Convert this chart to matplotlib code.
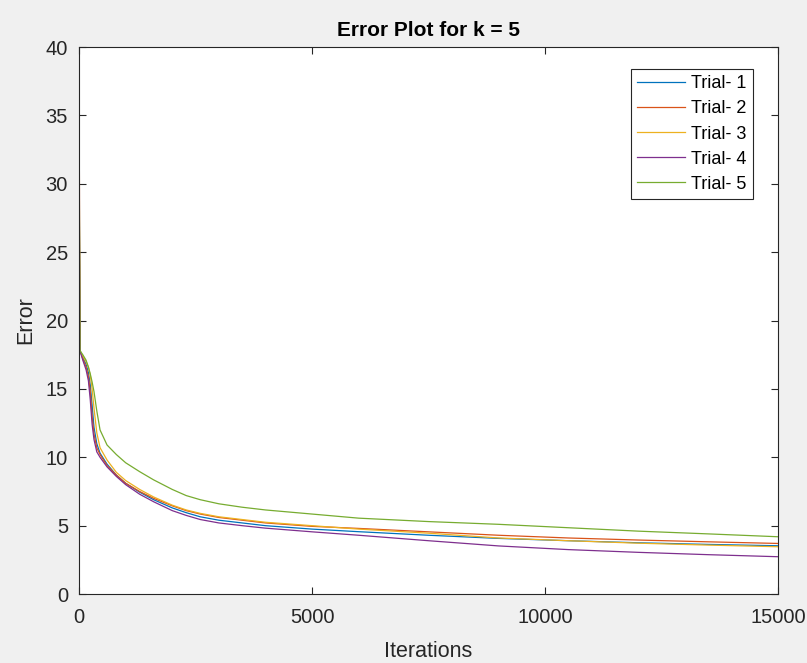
import matplotlib
matplotlib.use("Agg")
import matplotlib.pyplot as plt

plt.rcParams['font.family'] = ['Liberation Sans', 'DejaVu Sans']

iterations = [0, 20, 80, 150, 200, 240, 280, 320, 380, 450, 600, 800, 1000,
              1300, 1600, 2000, 2300, 2600, 3000, 3500, 4000, 5000, 6000,
              7500, 9000, 10500, 12000, 13500, 15000]

trial1 = [32.0, 17.8, 17.3, 16.8, 16.2, 15.3, 13.8, 12.2, 11.0, 10.3, 9.5, 8.7, 8.1,
          7.45, 6.9, 6.3, 5.95, 5.65, 5.4, 5.2, 5.0, 4.75, 4.56,
          4.3, 4.07, 3.9, 3.75, 3.63, 3.53]
trial2 = [37.0, 17.8, 17.2, 16.6, 15.9, 14.8, 13.0, 11.7, 10.7, 10.2, 9.4, 8.7, 8.1,
          7.5, 7.0, 6.45, 6.1, 5.85, 5.6, 5.4, 5.2, 4.95, 4.8,
          4.55, 4.3, 4.1, 3.95, 3.82, 3.70]
trial3 = [31.0, 17.8, 17.4, 17.0, 16.6, 16.0, 15.0, 13.6, 11.8, 10.7, 9.8, 8.9, 8.3,
          7.65, 7.1, 6.5, 6.15, 5.9, 5.65, 5.45, 5.25, 5.0, 4.75,
          4.45, 4.1, 3.9, 3.72, 3.58, 3.46]
trial4 = [30.0, 17.8, 17.1, 16.4, 15.6, 14.2, 12.4, 11.3, 10.4, 10.0, 9.3, 8.6, 8.0,
          7.3, 6.75, 6.1, 5.75, 5.45, 5.2, 5.0, 4.82, 4.55, 4.3,
          3.9, 3.52, 3.25, 3.05, 2.88, 2.73]
trial5 = [33.7, 17.8, 17.5, 17.1, 16.6, 16.1, 15.5, 14.8, 13.4, 12.0, 10.9, 10.2, 9.6,
          8.95, 8.35, 7.65, 7.2, 6.9, 6.6, 6.35, 6.15, 5.85, 5.55,
          5.3, 5.1, 4.85, 4.6, 4.4, 4.19]

labels = ["Trial- 1", "Trial- 2", "Trial- 3", "Trial- 4", "Trial- 5"]
colors = ["#0072BD", "#D95319", "#EDB120", "#7E2F8E", "#77AC30"]
series = [trial1, trial2, trial3, trial4, trial5]

fig = plt.figure(figsize=(8.07, 6.63), dpi=100, facecolor="#f0f0f0")
ax = fig.add_axes([0.098, 0.104, 0.866, 0.825])
ax.set_facecolor("white")

for s, lab, c in zip(series, labels, colors):
    ax.plot(iterations, s, color=c, lw=0.9, label=lab)

ax.set_xlim(0, 15000)
ax.set_ylim(0, 40)
ax.set_xticks([0, 5000, 10000, 15000])
ax.set_yticks(range(0, 41, 5))
tc = "#262626"
ax.tick_params(direction="in", length=5, width=0.8, top=True, right=True,
               labelsize=14.5, colors=tc)
ax.tick_params(axis="y", pad=8)
ax.tick_params(axis="x", pad=10)
for sp in ax.spines.values():
    sp.set_color(tc)
    sp.set_linewidth(0.8)

ax.set_title("Error Plot for k = 5", fontsize=15, fontweight="bold", color="black", pad=8)
ax.set_xlabel("Iterations", fontsize=15.5, color=tc, labelpad=10)
ax.set_ylabel("Error", fontsize=15.5, color=tc, labelpad=7)

leg = ax.legend(loc="upper right", bbox_to_anchor=(0.964, 0.96), fontsize=13,
                frameon=True, fancybox=False, edgecolor=tc, framealpha=1,
                handlelength=2.66, handletextpad=0.33, borderpad=0.35,
                labelspacing=0.45, borderaxespad=0)
leg.get_frame().set_linewidth(0.8)

fig.savefig("out.png", dpi=100, facecolor=fig.get_facecolor())
